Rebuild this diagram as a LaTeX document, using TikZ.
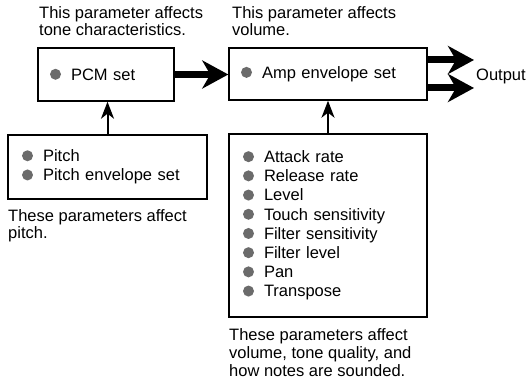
\documentclass[tikz,border=0pt]{standalone}
\usepackage{fontspec}
\setmainfont{Liberation Sans}
\usetikzlibrary{arrows.meta}
\definecolor{dotgray}{HTML}{6B6B6B}
\newcommand{\bul}{\tikz[baseline=-5.9pt]\fill[dotgray] (0,0) circle (5.5pt);\hspace{10pt}}

\begin{document}
\begin{tikzpicture}[
            x=1pt, y=-1pt,
                set_box/.style={rectangle, draw=black, line width=1.4pt, fill=white, inner xsep=12pt, inner ysep=0pt, align=left, font=\fontsize{16.5}{19.2}\selectfont},
                note_text/.style={anchor=north west, inner sep=0pt, align=left, font=\fontsize{16.5}{17}\selectfont},
                thick_arrow/.style={line width=7pt, -{Stealth[length=26pt, width=28pt, inset=8pt]}},
                thin_arrow/.style={line width=2pt, -{Stealth[length=17pt, width=13pt, inset=5pt]}}
            ]
              \useasboundingbox (0,0) rectangle (528,385);

              % parameter sets
              \node[set_box, text width=112pt, minimum height=53pt] (pcm) at (106,74.5) {\bul PCM set};
              \node[set_box, text width=174pt, minimum height=52pt] (amp) at (328,74) {\bul Amp envelope set};
              \node[set_box, inner xsep=14pt, text width=171pt, minimum height=64pt] (pitch) at (107.5,167)
                {\bul Pitch\\ \bul Pitch envelope set};
              \node[set_box, inner xsep=14pt, text width=170pt, minimum height=183pt] (params) at (328,225.5)
                {\bul Attack rate\\ \bul Release rate\\ \bul Level\\ \bul Touch sensitivity\\
                 \bul Filter sensitivity\\ \bul Filter level\\ \bul Pan\\ \bul Transpose};

              % notes
              \node[note_text] (pcm_note) at (39,6) {This parameter affects\\tone characteristics.};
              \node[note_text] (amp_note) at (232,6) {This parameter affects\\volume.};
              \node[note_text] (pitch_note) at (8,209) {These parameters affect\\pitch.};
              \node[note_text, font=\fontsize{16.5}{18}\selectfont] (params_note) at (229,328)
                {These parameters affect\\volume, tone quality, and\\how notes are sounded.};
              \node[anchor=base west, inner sep=0pt, font=\fontsize{16.5}{18}\selectfont] (output) at (476,81) {Output};

              % connectors
              \coordinate (out_a) at (474,60);
              \coordinate (out_b) at (474,88);
              \draw[thick_arrow] (pcm.east) -- (pcm.east -| amp.west);
              \draw[thick_arrow] (amp.east |- out_a) -- (out_a);
              \draw[thick_arrow] (amp.east |- out_b) -- (out_b);
              \draw[thin_arrow] (pitch.north) -- (pitch.north |- pcm.south);
              \draw[thin_arrow] (params.north) -- (amp.south);
            \end{tikzpicture}
\end{document}
